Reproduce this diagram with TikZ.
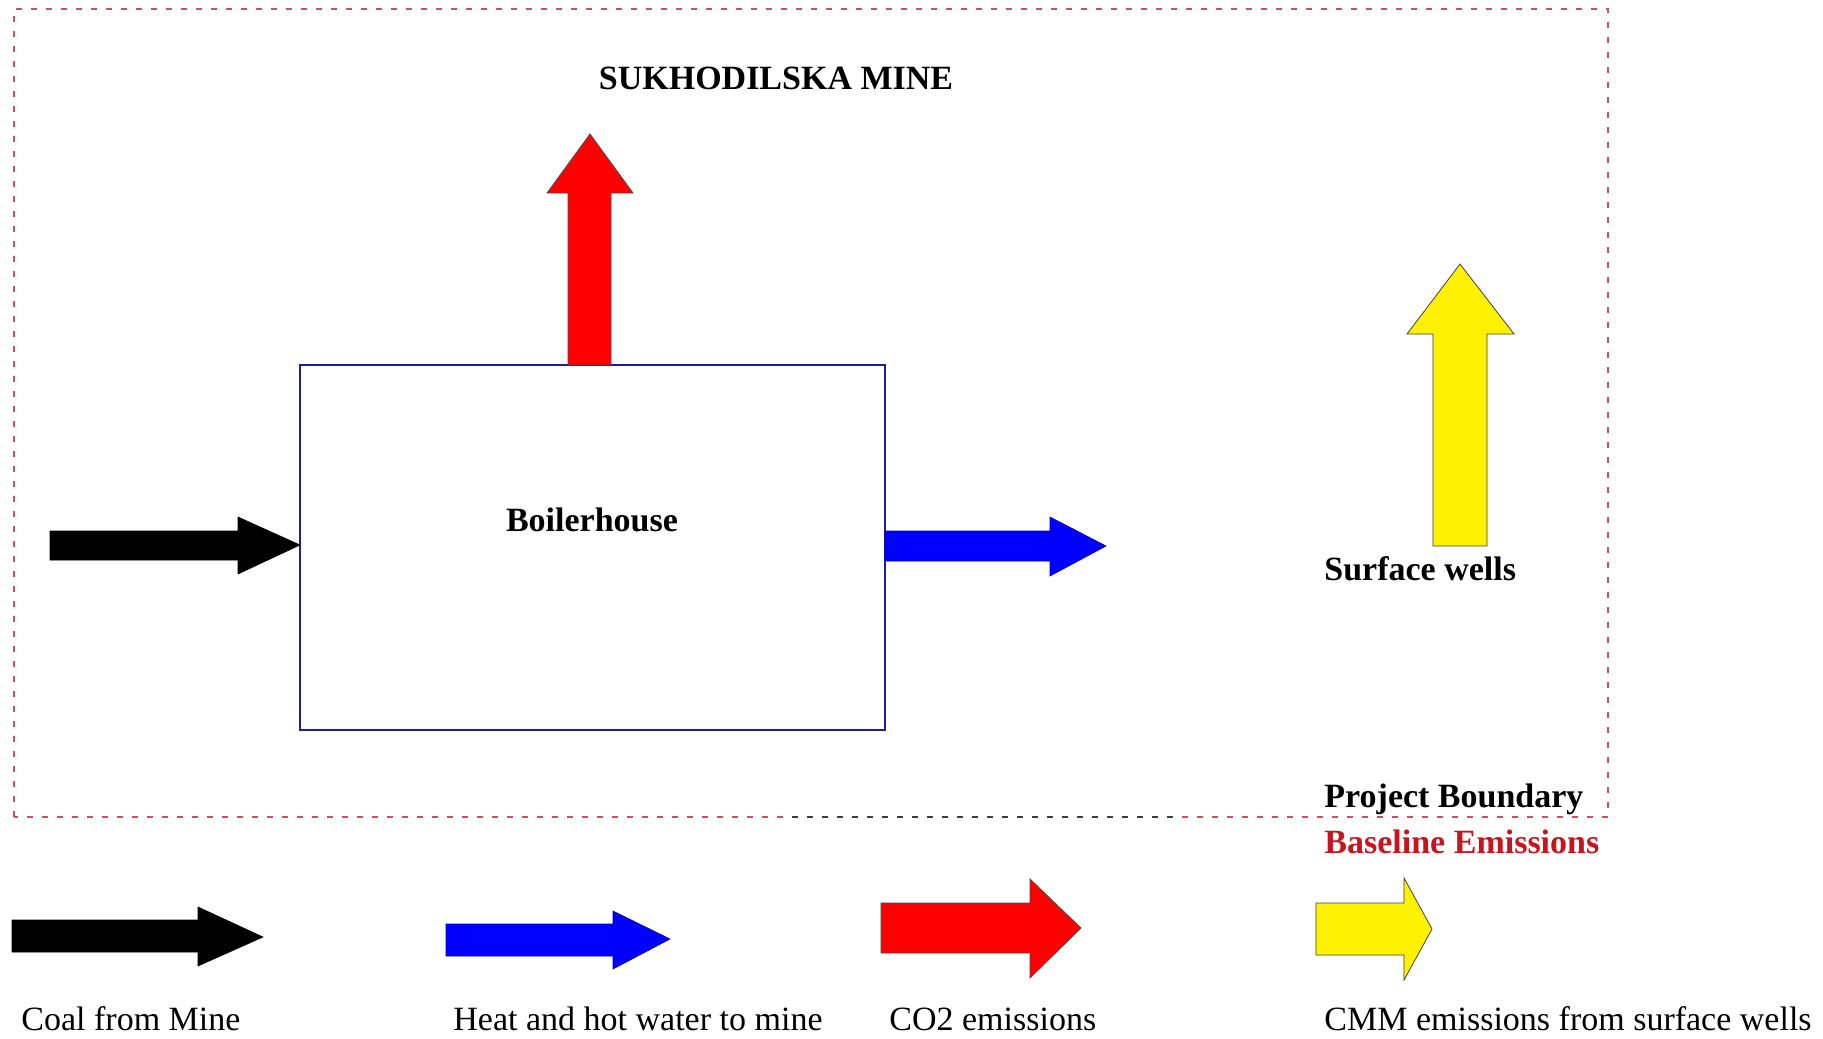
\documentclass[tikz,border=0pt]{standalone}
\usepackage{fontspec}
\setmainfont{Liberation Serif}
\definecolor{bndred}{RGB}{205,80,90}
\definecolor{bnddark}{RGB}{60,60,60}
\definecolor{boxblue}{RGB}{30,30,160}
\definecolor{basered}{RGB}{200,20,30}
\begin{document}
\begin{tikzpicture}[x=0.5pt,y=-0.5pt,
  lbl/.style={font=\fontsize{17}{20}\selectfont, inner sep=0pt},
  blbl/.style={font=\fontsize{17}{20}\selectfont\bfseries, inner sep=0pt},
  bnd/.style={draw=bndred, line width=0.6pt, dash pattern=on 3pt off 4.5pt},
  blkarrow/.style={fill=black, draw=black, line width=0.3pt},
  bluearrow/.style={fill=blue, draw=blue!70!black, line width=0.3pt},
  redarrow/.style={fill=red, draw=black!70, line width=0.4pt},
  yelarrow/.style={fill=yellow, draw=black!75, line width=0.4pt}]
\useasboundingbox (0,0) rectangle (1823,1038);
\fill[white] (0,0) rectangle (1823,1038);

% project boundary
\draw[bnd] (14,817) -- (14,9) -- (1608,9) -- (1608,817) -- cycle;
\draw[bnd, draw=bnddark] (792,817) -- (1175,817);

% boilerhouse
\node[draw=boxblue, line width=0.6pt, minimum width=292.5pt, minimum height=182.5pt, inner sep=0pt] (boiler) at (592.5,547.5) {};
\node[blbl, anchor=base] (boilertxt) at (592,531) {Boilerhouse};

% title
\node[blbl, anchor=base] (title) at (776,90) {SUKHODILSKA MINE};

% main arrows
\draw[blkarrow] (50,531) -- (238,531) -- (238,517) -- (300,545) -- (238,574) -- (238,560) -- (50,560) -- cycle;
\draw[bluearrow] (885,531) -- (1050,531) -- (1050,517) -- (1106,546) -- (1050,576) -- (1050,561) -- (885,561) -- cycle;
\draw[redarrow] (568,365) -- (568,193) -- (547,193) -- (590,134) -- (633,193) -- (611,193) -- (611,365) -- cycle;
\draw[yelarrow] (1433,546) -- (1433,334) -- (1407,334) -- (1460,264) -- (1514,334) -- (1487,334) -- (1487,546) -- cycle;

\node[blbl, anchor=base west] (wells) at (1324,580) {Surface wells};
\node[blbl, anchor=base west] (pb) at (1324,807) {Project Boundary};
\node[blbl, anchor=base west, text=basered] (be) at (1324,853) {Baseline Emissions};

% legend arrows
\draw[blkarrow] (12,920) -- (198,920) -- (198,907) -- (263,937) -- (198,966) -- (198,952) -- (12,952) -- cycle;
\draw[bluearrow] (446,924) -- (613,924) -- (613,911) -- (670,939) -- (613,969) -- (613,956) -- (446,956) -- cycle;
\draw[redarrow] (881,903) -- (1030,903) -- (1030,879) -- (1081,928) -- (1030,978) -- (1030,953) -- (881,953) -- cycle;
\draw[yelarrow] (1316,903) -- (1404,903) -- (1404,878) -- (1432,929) -- (1404,980) -- (1404,955) -- (1316,955) -- cycle;

% legend texts
\node[lbl, anchor=base west] (l1) at (21,1030) {Coal from Mine};
\node[lbl, anchor=base west] (l2) at (453,1030) {Heat and hot water to mine};
\node[lbl, anchor=base west] (l3) at (889,1030) {CO2 emissions};
\node[lbl, anchor=base west] (l4) at (1324,1030) {CMM emissions from surface wells};
\end{tikzpicture}
\end{document}
